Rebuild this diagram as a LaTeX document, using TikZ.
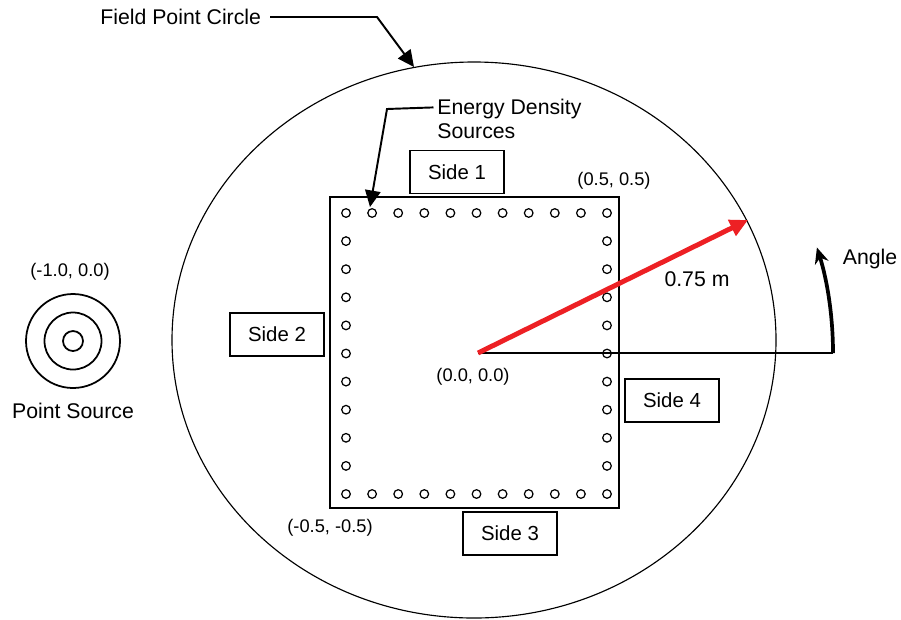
\documentclass[tikz,border=0pt]{standalone}
\usepackage{fontspec}
\setmainfont{Liberation Sans}
\usetikzlibrary{arrows.meta,calc,positioning}
\tikzset{
    lbl/.style={inner sep=0pt,font=\fontsize{12.1}{14}\selectfont},
    coordlbl/.style={inner sep=0pt,font=\fontsize{10.4}{12}\selectfont},
    sidebox/.style={draw=black,line width=0.8pt,minimum width=1.88cm,minimum height=0.86cm,inner sep=0pt,font=\fontsize{11.6}{13}\selectfont},
    leader/.style={line width=1.1pt,draw=black,-{Triangle[length=3.3mm,width=3.1mm]}},
    srcdot/.style={draw=black,line width=0.7pt},
    srcring/.style={draw=black,line width=1pt},
    redarrow/.style={line width=2.8pt,draw={rgb,255:red,237;green,32;blue,36},-{Triangle[length=3.6mm,width=3.4mm]}},
    anglearrow/.style={line width=2.1pt,draw=black,-{Stealth[length=3.2mm,width=2.8mm]}}
}

\begin{document}
\begin{tikzpicture}[x=0.02cm,y=-0.02cm]
  \useasboundingbox (0,0) rectangle (901,619);
  % field point circle and panel
  \draw[line width=0.65pt] (474,340) ellipse (302 and 278);
  \coordinate (SW) at (330,508);
  \coordinate (NE) at (619,197);
  \draw[line width=0.85pt] (SW) rectangle (NE);
  % sources round the panel
  \foreach \i in {0,...,10}{
    \draw[srcdot] (346+26.1*\i,213) circle (4.3);
    \draw[srcdot] (346+26.1*\i,494) circle (4.3);
  }
  \foreach \j in {1,...,9}{
    \draw[srcdot] (346,213+28.1*\j) circle (4.3);
    \draw[srcdot] (607,213+28.1*\j) circle (4.3);
  }
  % radius and angle
  \coordinate (O) at (478,353);
  \coordinate (P) at (748,220);
  \coordinate (R) at (833,353);
  \draw[line width=0.7pt] (O) -- (R);
  \draw[redarrow] (O) -- (P);
  \draw[anglearrow] (R) arc (0:-17.3:355);
  \node[lbl] (ang) at (870,259) {Angle};
  \node[lbl] (rad) at (697,279) {0.75 m};
  % side labels
  \node[sidebox] (s1) at (457,172) {Side 1};
  \node[sidebox] (s2) at (277,334.5) {Side 2};
  \node[sidebox] (s3) at (510,533.5) {Side 3};
  \node[sidebox] (s4) at (672,400.5) {Side 4};
  % corner coordinates
  \node[coordlbl] (cne) at (614,181) {(0.5, 0.5)};
  \node[coordlbl] (csw) at (330,528) {(-0.5, -0.5)};
  \node[coordlbl] (co) at (473,377) {(0.0, 0.0)};
  % point source
  \coordinate (S) at (73,341);
  \foreach \r in {47,28.5,10}{\draw[srcring] (S) circle (\r);}
  \node[coordlbl] (cs) at (70,272) {(-1.0, 0.0)};
  \node[lbl] (ps) at (73,411) {Point Source};
  % leaders
  \node[lbl,anchor=west] (fpc) at (100,17) {Field Point Circle};
  \coordinate (fpctip) at (414,67);
  \draw[leader] ([xshift=5pt]fpc.east) -- (377,17) -- (fpctip);
  \node[lbl,anchor=west,align=left] (eds) at (437,119) {Energy Density\\Sources};
  \coordinate (edstip) at (370,207);
  \draw[leader] ([xshift=-2pt,yshift=6.6pt]eds.west) -- (387,109) -- (edstip);
\end{tikzpicture}
\end{document}
